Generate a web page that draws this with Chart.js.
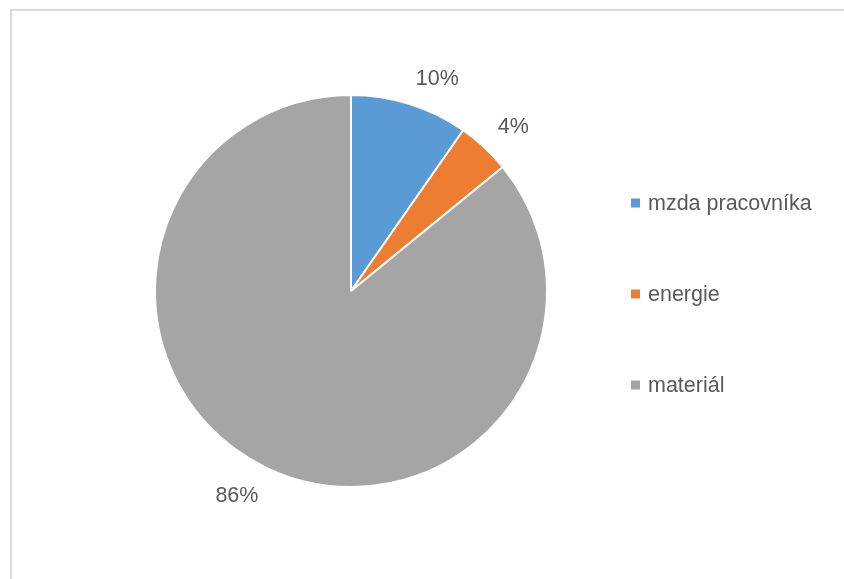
<!DOCTYPE html>
<html>
<head>
<meta charset="utf-8">
<script src="https://cdn.jsdelivr.net/npm/chart.js@4/dist/chart.umd.min.js"></script>
<style>
  html, body { margin: 0; padding: 0; background: #ffffff; }
  #wrap { position: relative; width: 844px; height: 579px; overflow: hidden; }
  #frame { position: absolute; left: 10px; top: 9px; width: 900px; height: 700px;
           border: 2px solid #d9d9d9; box-sizing: border-box; }
  canvas { position: absolute; left: 0; top: 0; }
</style>
</head>
<body>
<div id="wrap">
  <div id="frame"></div>
  <canvas id="c" width="844" height="579"></canvas>
</div>
<script>
const categories = ["mzda pracovníka", "energie", "materiál"];
const shares = [9.7, 4.4, 85.9];
const percentLabels = ["10%", "4%", "86%"];
const colors = ["#5B9BD5", "#ED7D31", "#A5A5A5"];

const FONT = "'Liberation Sans', Arial, sans-serif";
const TEXT = "#595959";
const FONT_SIZE = 21.5;

const outsideLabels = {
  id: "outsideLabels",
  afterDatasetsDraw(chart) {
    const ctx = chart.ctx;
    const meta = chart.getDatasetMeta(0);
    ctx.save();
    ctx.font = FONT_SIZE + "px " + FONT;
    ctx.fillStyle = TEXT;
    ctx.textAlign = "center";
    ctx.textBaseline = "middle";
    meta.data.forEach((arc, i) => {
      const mid = (arc.startAngle + arc.endAngle) / 2;
      const r = arc.outerRadius + 20;
      const w = ctx.measureText(percentLabels[i]).width;
      const h = 16;
      const px = arc.x + Math.cos(mid) * r;
      const py = arc.y + Math.sin(mid) * r;
      const x = px + Math.sign(Math.cos(mid)) * w / 2;
      const y = py + Math.sign(Math.sin(mid)) * h / 2 + 2;
      ctx.fillText(percentLabels[i], x, y);
    });
    ctx.restore();
  }
};

const sideLegend = {
  id: "sideLegend",
  afterDraw(chart) {
    const ctx = chart.ctx;
    const labels = chart.data.labels;
    const bg = chart.data.datasets[0].backgroundColor;
    ctx.save();
    ctx.font = FONT_SIZE + "px " + FONT;
    ctx.textBaseline = "middle";
    ctx.textAlign = "left";
    const x0 = 631, y0 = 203, step = 91;
    labels.forEach((lab, i) => {
      const y = y0 + i * step;
      ctx.fillStyle = bg[i];
      ctx.fillRect(x0, y - 4.5, 9, 9);
      ctx.fillStyle = TEXT;
      ctx.fillText(lab, x0 + 17, y + 1);
    });
    ctx.restore();
  }
};

new Chart(document.getElementById("c"), {
  type: "pie",
  data: {
    labels: categories,
    datasets: [{
      data: shares,
      backgroundColor: colors,
      borderColor: "#ffffff",
      borderWidth: 2
    }]
  },
  options: {
    responsive: false,
    animation: false,
    layout: { padding: { left: 154, right: 296, top: 94, bottom: 91 } },
    plugins: {
      legend: { display: false },
      tooltip: { enabled: false }
    }
  },
  plugins: [outsideLabels, sideLegend]
});
</script>
</body>
</html>
